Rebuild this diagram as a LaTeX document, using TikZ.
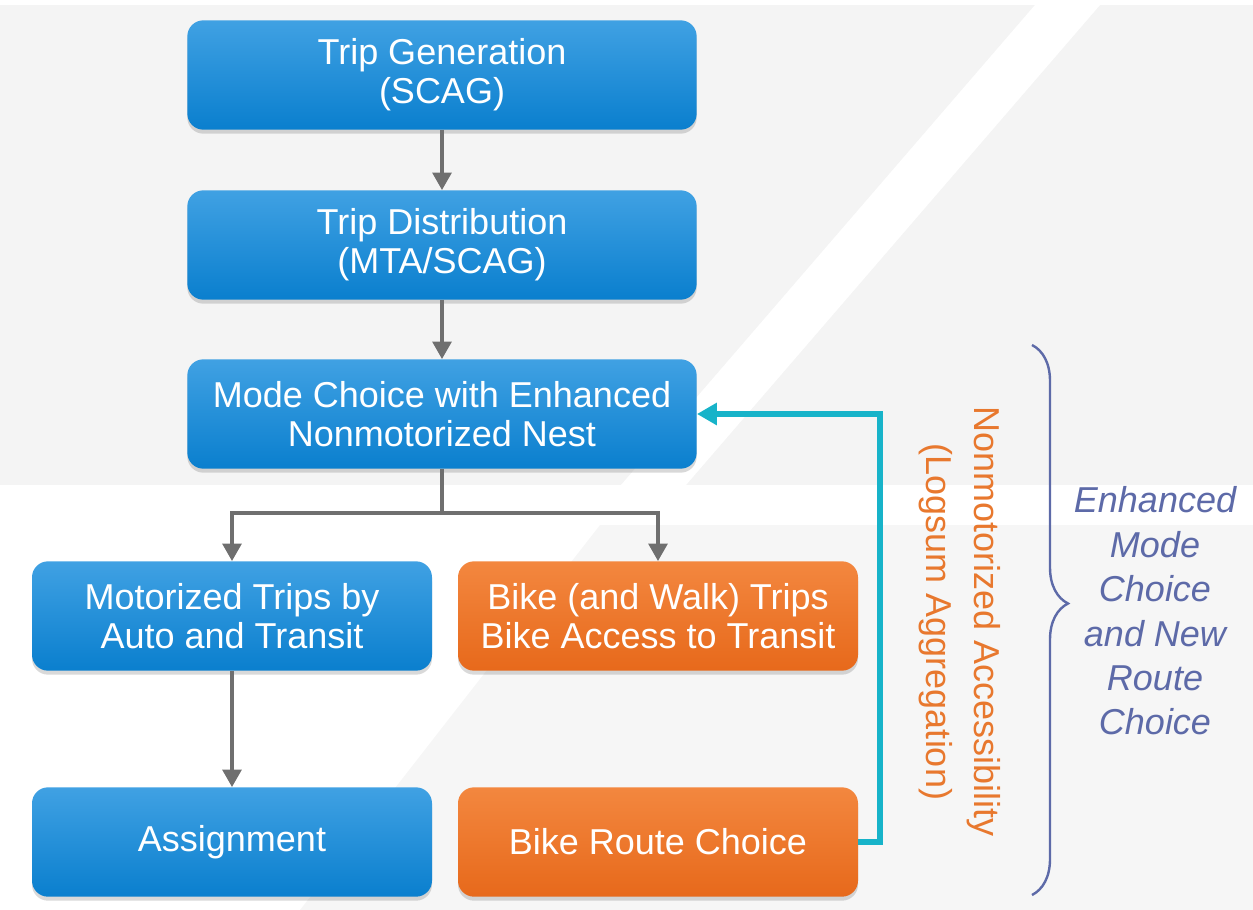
\documentclass[tikz,border=0pt]{standalone}
\usepackage{fontspec}
\setmainfont{Liberation Sans}
\usetikzlibrary{arrows.meta,shadows,decorations.pathreplacing}
\definecolor{bgray}{HTML}{F4F4F4}
\definecolor{lgray}{HTML}{F6F6F6}
\definecolor{blueA}{HTML}{40A1E3}
\definecolor{blueB}{HTML}{0A7FCE}
\definecolor{orA}{HTML}{F3873F}
\definecolor{orB}{HTML}{E7691B}
\definecolor{flowgray}{HTML}{6F6F6F}
\definecolor{feedcyan}{HTML}{17B3C9}
\definecolor{acctext}{HTML}{E8782E}
\definecolor{bracecol}{HTML}{5D6AA8}
\tikzset{
  box/.style={rounded corners=12pt,minimum height=82pt,align=center,text=white,
    font=\fontsize{27}{29}\selectfont,
    drop shadow={shadow xshift=0pt,shadow yshift=-3pt,opacity=.3}},
  widebox/.style={box,minimum width=382pt,top color=blueA,bottom color=blueB},
  bluebox/.style={box,minimum width=300pt,top color=blueA,bottom color=blueB},
  orangebox/.style={box,minimum width=300pt,top color=orA,bottom color=orB},
  flow/.style={draw=flowgray,line width=2.6pt,-{Triangle[length=13pt,width=14pt]}},
  feed/.style={draw=feedcyan,line width=4pt,-{Triangle[length=15pt,width=16pt]}}
}
\begin{document}
\begin{tikzpicture}[x=.75pt,y=-.75pt]
\useasboundingbox(0,0)rectangle(1253,910);
\fill[bgray](0,5)rectangle(1253,485);
\fill[white](1035,5)--(1100,5)--(686,485)--(621,485)--cycle;
\fill[lgray](600,525)--(1253,525)--(1253,910)--(300,910)--cycle;
\node[widebox](gen)at(442,75){Trip Generation\\(SCAG)};
\node[widebox](dist)at(442,245){Trip Distribution\\(MTA/SCAG)};
\node[widebox](mode)at(442,414){Mode Choice with Enhanced\\Nonmotorized Nest};
\node[bluebox](motor)at(232,616){Motorized Trips by\\Auto and Transit};
\node[orangebox](bike)at(658,616){Bike (and Walk) Trips\\Bike Access to Transit};
\node[bluebox](assign)at(232,842){Assignment};
\node[orangebox](route)at(658,842){Bike Route Choice};
\coordinate(fork)at(442,513);
\coordinate(turn)at(880,842);
\draw[flow](gen)--(dist);
\draw[flow](dist)--(mode);
\draw[flow](mode)--(fork)-|(motor);
\draw[flow](fork)-|(bike);
\draw[flow](motor)--(assign);
\draw[feed](route)--(turn)|-(mode);
\node[rotate=-90,text=acctext,align=center,font=\fontsize{27}{36}\selectfont](acc)at(960,622)
  {Nonmotorized Accessibility\\(Logsum Aggregation)};
\draw[bracecol,line width=1.8pt,decorate,decoration={brace,amplitude=27pt,aspect=.47}]
  (1032,345)--(1032,895);
\node[text=bracecol,align=center,font=\fontsize{27}{33.3}\selectfont\itshape](enh)at(1155,611)
  {Enhanced\\Mode\\Choice\\and New\\Route\\Choice};
\end{tikzpicture}
\end{document}
